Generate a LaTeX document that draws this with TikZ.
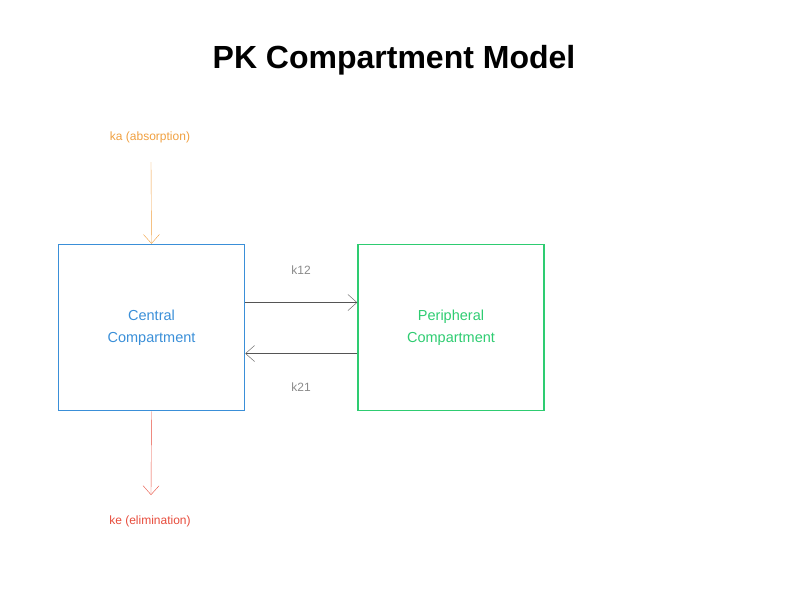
\documentclass[tikz,border=0pt]{standalone}
\usepackage{fontspec}
\setmainfont{Liberation Sans}
\usetikzlibrary{positioning,arrows.meta}
\definecolor{cblue}{HTML}{3A8FD8}
\definecolor{cgreen}{HTML}{2ECC71}
\definecolor{corange}{HTML}{F0A040}
\definecolor{cred}{HTML}{E74C3C}
\definecolor{cgray}{HTML}{8A8A8A}
\definecolor{cline}{HTML}{555555}

\begin{document}
\begin{tikzpicture}[x=1pt,y=-1pt,>={Straight Barb[length=9pt,width=16pt]},
    comp/.style={draw,line width=1.5pt,minimum width=186pt,minimum height=166pt,
      inner sep=0pt,align=center,font=\fontsize{14.5}{22}\selectfont},
    rate/.style={font=\fontsize{12}{14}\selectfont}]
    \useasboundingbox (0,0) rectangle (800,600);
    % nodes
      \node[font=\fontsize{32}{38}\selectfont\bfseries] (title) at (394,60) {PK Compartment Model};
      \node[comp,cblue,text=cblue] (central) at (151.5,327.5) {Central\\Compartment};
      \node[comp,cgreen,text=cgreen] (periph) [right = 112pt of central] {Peripheral\\Compartment};
      \node[rate,text=corange] (ka) at (150,137) {ka (absorption)};
      \node[rate,text=cred] (ke) at (150,521) {ke (elimination)};
      \node[rate,text=cgray] (k12) at (301,270) {k12};
      \node[rate,text=cgray] (k21) at (301,387) {k21};
      \coordinate (kain) at (151,162);
      \coordinate (keout) at (151,495);
      %edges
      \draw[->,corange] (kain) -- (central.north);
      \draw[->,cred] (central.south) -- (keout);
      \draw[->,cline] ([yshift=25pt]central.east) -- ([yshift=25pt]periph.west);
      \draw[->,cline] ([yshift=-26pt]periph.west) -- ([yshift=-26pt]central.east);
\end{tikzpicture}
\end{document}
